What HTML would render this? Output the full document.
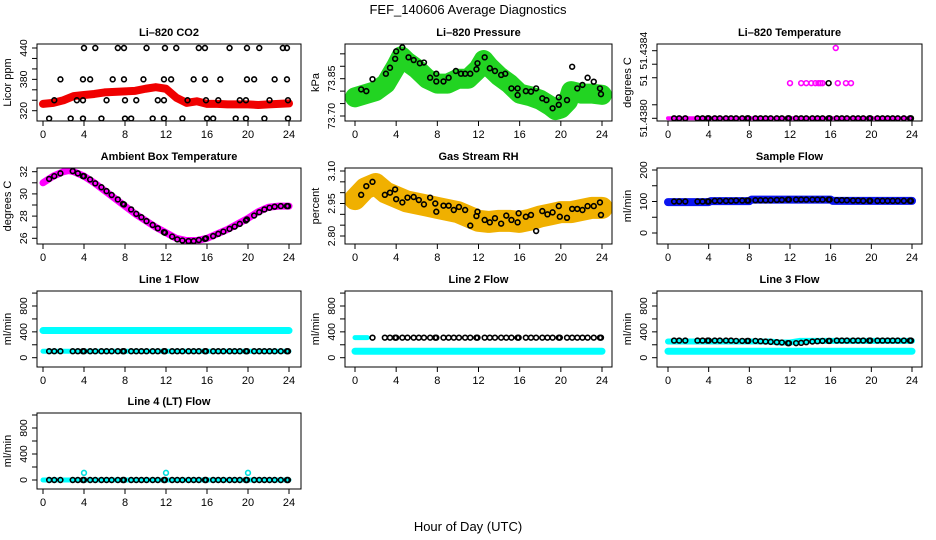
<!DOCTYPE html>
<html><head><meta charset="utf-8">
<style>
body{margin:0;background:#fff;}
svg{display:block;font-family:"Liberation Sans",sans-serif;}
</style></head>
<body>
<svg id="chart" width="936" height="540" viewBox="0 0 936 540" xmlns="http://www.w3.org/2000/svg">
<text x="468" y="14" font-size="13" text-anchor="middle">FEF_140606  Average Diagnostics</text>
<text x="468" y="531" font-size="13" text-anchor="middle">Hour of Day (UTC)</text>
</svg>
<script>
// ---- shared black-point hours ----
const hrs = [0.6,1.1,1.7,2.9,3.4,3.9,4.0,4.6,5.1,5.7,6.2,6.7,7.3,7.8,7.9,8.6,9.1,9.6,10.1,10.7,11.2,11.8,11.9,12.6,13.1,13.6,14.2,14.7,15.2,15.8,15.9,16.6,17.1,17.6,18.2,18.7,19.2,19.8,19.9,20.6,21.1,21.6,22.1,22.6,23.2,23.8,23.9];
const xTicks = [0,4,8,12,16,20,24];

// ---- CO2 ----
const co2BandH = [0,1,2,3,4,5,6,7,8,9,10,11,12,13,14,15,16,17,18,19,20,21,22,23,24];
const co2BandV = [333,335,340,348,350,352,355,356,357,358,362,365,362,345,335,338,333,333,332,332,332,331,332,333,334];
const co2H = [4,5.1,7.3,7.9,10.1,11.9,13.0,15.2,15.8,18.2,19.9,21.1,23.4,23.8, 1.7,3.9,4.6,6.8,7.9,9.8,11.8,12.5,14.7,15.8,17.3,19.9,20.6,22.6,23.8, 1.1,3.3,3.9,6.2,8.0,9.1,11.2,11.8,14.1,15.9,17.1,19.2,19.8,22.1,23.9, 0.6,2.7,3.9,5.7,8.0,8.6,10.7,11.8,13.6,16.0,16.6,18.8,19.8,21.6,23.9];
const co2V = [440,440,440,440,440,440,440,440,440,440,440,440,440,440, 380,380,380,380,380,380,380,380,380,380,380,380,380,380,380, 340,340,340,340,340,340,340,340,340,340,340,340,340,340,340, 305,305,305,305,305,305,305,305,305,305,305,305,305,305,305];

// ---- Pressure ----
const prBandH = [0,2,3,4,4.5,5,6,7,8,9,10,11,12,12.5,13,14,15,16,17,18,19,19.5,20,20.7,21,22,23,24];
const prBandV = [73.775,73.80,73.83,73.90,73.94,73.92,73.89,73.85,73.83,73.83,73.85,73.85,73.89,73.925,73.90,73.86,73.83,73.79,73.78,73.765,73.74,73.724,73.73,73.76,73.80,73.79,73.79,73.785];
const prH = [0.6,1.1,1.7,3.0,3.4,3.9,4.0,4.6,5.2,5.7,6.3,6.7,7.3,7.9,7.9,8.6,9.1,9.8,10.3,10.7,11.2,11.8,11.9,12.6,13.1,13.6,14.2,14.6,15.2,15.8,15.8,16.6,17.1,17.6,18.2,18.6,19.2,19.8,19.8,20.6,21.1,21.6,22.1,22.6,23.2,23.8,23.9];
const prV = [73.807,73.80,73.848,73.87,73.894,73.93,73.96,73.976,73.936,73.925,73.912,73.915,73.854,73.87,73.839,73.839,73.854,73.881,73.87,73.87,73.87,73.888,73.912,73.936,73.892,73.881,73.865,73.87,73.811,73.811,73.784,73.80,73.798,73.811,73.771,73.764,73.731,73.775,73.745,73.764,73.898,73.811,73.825,73.854,73.838,73.811,73.788];

// ---- Li-820 temperature ----
const ltLowV = 51.4380;
const ltMidH = [12.0,13.1,13.6,14.1,14.5,14.8,15.0,15.2,16.7,17.5,18.0];
const ltMidV = [51.43826,51.43826,51.43826,51.43826,51.43826,51.43826,51.43826,51.43826,51.43826,51.43826,51.43826];
const ltBlackMidH = [15.8];
const ltBlackMidV = [51.43826];
const ltHighH = [16.5];
const ltHighV = [51.43852];

// ---- Ambient temperature ----
const ambBandH = [0,0.5,1,2,2.5,3,4,5,6,7,8,9,10,11,12,13,14,15,16,17,18,19,20,21,22,23,24];
const ambBandV = [31.0,31.3,31.6,32.0,32.1,32.0,31.6,31.0,30.3,29.6,28.9,28.2,27.6,27.0,26.5,26.0,25.8,25.8,26.0,26.4,26.8,27.3,27.8,28.4,28.8,28.9,28.9];
const ambV = [31.35,31.6,31.85,32.05,31.85,31.6,31.6,31.3,30.95,30.6,30.25,29.9,29.5,29.1,29.05,28.6,28.2,27.9,27.55,27.2,26.9,26.55,26.5,26.15,25.9,25.8,25.75,25.75,25.85,25.95,26.0,26.2,26.4,26.6,26.85,27.05,27.3,27.6,27.7,28.05,28.35,28.6,28.75,28.85,28.9,28.9,28.9];

// ---- RH ----
const rhBandH = [0,1,2,3,4,5,6,7,8,9,10,11,12,13,14,15,16,17,18,19,20,21,22,23,24];
const rhBandV = [2.97,3.02,3.04,3.00,2.98,2.96,2.95,2.94,2.93,2.92,2.91,2.89,2.87,2.865,2.87,2.87,2.865,2.875,2.89,2.90,2.91,2.91,2.92,2.93,2.93];
const rhV = [2.99,3.03,3.05,2.99,3.0,3.015,2.97,2.955,2.977,2.98,2.966,2.946,2.977,2.95,2.912,2.94,2.94,2.92,2.934,2.92,2.848,2.892,2.912,2.874,2.863,2.882,2.857,2.894,2.874,2.863,2.905,2.889,2.897,2.823,2.915,2.90,2.909,2.938,2.889,2.884,2.925,2.925,2.92,2.938,2.938,2.955,2.897];

// ---- Sample flow ----
const sfBandH = [0,4,4.2,8,8.2,16,16.2,24];
const sfBandV = [98,98,101,101,106,106,102,102];
const sfV = [100,100,100,100,100,100,100,102,102,102,102,103,103,103,103,104,104,104,104,105,105,106,106,106,106,106,106,106,106,106,106,104,104,104,103,103,102,102,102,102,102,102,102,102,102,102,102];

// ---- Line flows ----
const l1CyanH = [0,24];
const l1CyanV = [420,420];
const l1CyanLowV = [100,100];
const l1V = 100;
const l2CyanV = [100,100];
const l2CyanHighH = [0,1.2];
const l2CyanHighV = [310,310];
const l2V = 310;
const l3CyanLowV = [100,100];
const l3CyanH = [0,10,11,12,13,24];
const l3CyanV = [250,250,235,235,260,260];
const l3V = [265,265,265,265,265,265,265,265,265,265,265,260,260,260,260,260,255,250,245,240,235,225,225,225,230,240,250,255,260,260,260,265,265,265,265,265,265,265,265,265,265,265,265,265,265,265,265];
const l4CyanV = [0,0];
const l4OutH = [4.0,12.0,20.0];
const l4OutV = [110,110,110];
const l4V = 0;

const NS = "http://www.w3.org/2000/svg";
const svg = document.getElementById('chart');
function mk(tag, attrs, parent){
  const e = document.createElementNS(NS, tag);
  for (const k in attrs) e.setAttribute(k, attrs[k]);
  (parent||svg).appendChild(e);
  return e;
}

function panel(cfg){
  const g = mk('g', {});
  
  
  const [bx0,by0,bx1,by1] = cfg.box;
  const xs = h => cfg.xm[0] + (cfg.xm[1]-cfg.xm[0])*h/24;
  const ys = v => cfg.ym[1] + (cfg.ym[3]-cfg.ym[1])*(v-cfg.ym[0])/(cfg.ym[2]-cfg.ym[0]);
  const t = mk('text', {x:(bx0+bx1)/2, y:by0-8, 'font-size':11, 'font-weight':'bold','text-anchor':'middle'}, g);
  t.textContent = cfg.title;
  
  
  const clip = 'clip-' + cfg.name;
  const cp = mk('clipPath', {id:clip}, g);
  mk('rect', {x:bx0, y:by0, width:bx1-bx0, height:by1-by0}, cp);
  const pg = mk('g', {'clip-path':'url(#'+clip+')'}, g);
  cfg.draw(pg, xs, ys);
  const box = mk('rect', {x:bx0, y:by0, width:bx1-bx0, height:by1-by0, fill:'none', stroke:'#000', 'stroke-width':1}, g);
  
  
  xTicks.forEach(h => {
    const x = xs(h);
    mk('line', {x1:x, x2:x, y1:by1, y2:by1+5, stroke:'#000'}, g);
    const tl = mk('text', {x:x, y:by1+17, 'font-size':11, 'text-anchor':'middle'}, g);
    tl.textContent = h;
    
    
  });
  cfg.yt.forEach(v => {
    const y = ys(v);
    mk('line', {x1:bx0-5, x2:bx0, y1:y, y2:y, stroke:'#000'}, g);
  });
  cfg.yl.forEach((lab, i) => {
    const y = ys(cfg.ylv[i]);
    const x = bx0 - 10;
    const tl = mk('text', {x:x, y:y, 'font-size':10.5, 'text-anchor':'middle', transform:'rotate(-90 '+x+' '+y+')'}, g);
    tl.textContent = lab;
    
    
  });
  const yx = bx0 - 26, yy = (by0+by1)/2;
  const yt = mk('text', {x:yx, y:yy, 'font-size':11, 'text-anchor':'middle', transform:'rotate(-90 '+yx+' '+yy+')'}, g);
  yt.textContent = cfg.ylab;
  
  
}
function band(g, xs, ys, H, V, color, w, name){
  const p = mk('polyline', {points:H.map((h,i)=>xs(h)+','+ys(V[i])).join(' '), fill:'none', stroke:color, 'stroke-width':w, 'stroke-linejoin':'round','stroke-linecap':'round'}, g);
  
  
}
function pts(g, xs, ys, H, V, color, name){
  H.forEach((h,i)=>{
    const v = Array.isArray(V) ? V[i] : V;
    const c = mk('circle', {cx:xs(h), cy:ys(v), r:2.4, fill:'none', stroke:color, 'stroke-width':1.6}, g);
    
    
  });
}
const C1=[37,301,43,289], C2=[345,612,355,602], C3=[657,922,668,912];
const R1=[44,121], R2=[168,244], R3=[291,367], R4=[413,489];
const flowT=[0,200,400,600,800,1000], flowL=['0','400','800'], flowLV=[0,400,800];

panel({name:'co2-panel', title:'Li\u2013820 CO2', ylab:'Licor ppm', box:[C1[0],R1[0],C1[1],R1[1]], xm:[C1[2],C1[3]], ym:[320,110.7,440,48],
  yt:[320,340,360,380,400,420,440], yl:['320','380','440'], ylv:[320,380,440],
  draw:(g,xs,ys)=>{ band(g,xs,ys,co2BandH,co2BandV,'#f00000',8,'co2-band'); pts(g,xs,ys,co2H,co2V,'#000','co2-point'); }});
panel({name:'pressure-panel', title:'Li\u2013820 Pressure', ylab:'kPa', box:[C2[0],R1[0],C2[1],R1[1]], xm:[C2[2],C2[3]], ym:[73.70,116,73.85,78.7],
  yt:[73.70,73.75,73.80,73.85,73.90,73.95], yl:['73.70','73.85'], ylv:[73.70,73.85],
  draw:(g,xs,ys)=>{ band(g,xs,ys,prBandH,prBandV,'#22d422',20,'pressure-band'); pts(g,xs,ys,prH,prV,'#000','pressure-point'); }});
panel({name:'li820-temp-panel', title:'Li\u2013820 Temperature', ylab:'degrees C', box:[C3[0],R1[0],C3[1],R1[1]], xm:[C3[2],C3[3]], ym:[51.4380,118.3,51.4385,50.7],
  yt:[51.4380,51.4381,51.4383,51.4384,51.4385], yl:['51.4380','51','51.4384'], ylv:[51.4380,51.43828,51.4385],
  draw:(g,xs,ys)=>{ band(g,xs,ys,[0,24],[ltLowV,ltLowV],'#ff00ff',4,'temp-band'); pts(g,xs,ys,hrs,ltLowV,'#000','temp-point');
    pts(g,xs,ys,ltMidH,ltMidV,'#ff00ff','temp-mid-point'); pts(g,xs,ys,ltBlackMidH,ltBlackMidV,'#000','temp-mid-black'); pts(g,xs,ys,ltHighH,ltHighV,'#ff00ff','temp-high-point'); }});
panel({name:'ambient-panel', title:'Ambient Box Temperature', ylab:'degrees C', box:[C1[0],R2[0],C1[1],R2[1]], xm:[C1[2],C1[3]], ym:[26,238.3,32,171.7],
  yt:[26,27,28,29,30,31,32], yl:['26','28','30','32'], ylv:[26,28,30,32],
  draw:(g,xs,ys)=>{ band(g,xs,ys,ambBandH,ambBandV,'#ff00ff',7,'ambient-band'); pts(g,xs,ys,hrs,ambV,'#000','ambient-point'); }});
panel({name:'rh-panel', title:'Gas Stream RH', ylab:'percent', box:[C2[0],R2[0],C2[1],R2[1]], xm:[C2[2],C2[3]], ym:[2.80,236,3.10,171],
  yt:[2.80,2.85,2.90,2.95,3.00,3.05,3.10], yl:['2.80','2.95','3.10'], ylv:[2.80,2.95,3.10],
  draw:(g,xs,ys)=>{ band(g,xs,ys,rhBandH,rhBandV,'#f0b000',22,'rh-band'); pts(g,xs,ys,hrs,rhV,'#000','rh-point'); }});
panel({name:'sample-flow-panel', title:'Sample Flow', ylab:'ml/min', box:[C3[0],R2[0],C3[1],R2[1]], xm:[C3[2],C3[3]], ym:[0,233,200,170],
  yt:[0,50,100,150,200], yl:['0','100','200'], ylv:[0,100,200],
  draw:(g,xs,ys)=>{ band(g,xs,ys,sfBandH,sfBandV,'#0a14f0',8,'sample-flow-band'); pts(g,xs,ys,hrs,sfV,'#000','sample-flow-point'); }});
panel({name:'line1-panel', title:'Line 1 Flow', ylab:'ml/min', box:[C1[0],R3[0],C1[1],R3[1]], xm:[C1[2],C1[3]], ym:[0,357.7,800,306],
  yt:flowT, yl:flowL, ylv:flowLV,
  draw:(g,xs,ys)=>{ band(g,xs,ys,l1CyanH,l1CyanV,'#00ffff',7,'line1-cyan-band'); band(g,xs,ys,l1CyanH,l1CyanLowV,'#00ffff',5,'line1-cyan-low'); pts(g,xs,ys,hrs,l1V,'#000','line1-point'); }});
panel({name:'line2-panel', title:'Line 2 Flow', ylab:'ml/min', box:[C2[0],R3[0],C2[1],R3[1]], xm:[C2[2],C2[3]], ym:[0,357.7,800,306],
  yt:flowT, yl:flowL, ylv:flowLV,
  draw:(g,xs,ys)=>{ band(g,xs,ys,l1CyanH,l2CyanV,'#00ffff',7,'line2-cyan-band'); band(g,xs,ys,l2CyanHighH,l2CyanHighV,'#00ffff',5,'line2-cyan-high'); pts(g,xs,ys,hrs.slice(2),l2V,'#000','line2-point'); }});
panel({name:'line3-panel', title:'Line 3 Flow', ylab:'ml/min', box:[C3[0],R3[0],C3[1],R3[1]], xm:[C3[2],C3[3]], ym:[0,357.7,800,306],
  yt:flowT, yl:flowL, ylv:flowLV,
  draw:(g,xs,ys)=>{ band(g,xs,ys,l1CyanH,l3CyanLowV,'#00ffff',7,'line3-cyan-low'); band(g,xs,ys,l3CyanH,l3CyanV,'#00ffff',6,'line3-cyan-band'); pts(g,xs,ys,hrs,l3V,'#000','line3-point'); }});
panel({name:'line4-panel', title:'Line 4 (LT) Flow', ylab:'ml/min', box:[C1[0],R4[0],C1[1],R4[1]], xm:[C1[2],C1[3]], ym:[0,480,800,428],
  yt:flowT, yl:flowL, ylv:flowLV,
  draw:(g,xs,ys)=>{ band(g,xs,ys,l1CyanH,l4CyanV,'#00ffff',5,'line4-cyan-band'); pts(g,xs,ys,hrs,l4V,'#000','line4-point'); pts(g,xs,ys,l4OutH,l4OutV,'#00e0e0','line4-outlier'); }});
</script>
</body></html>
